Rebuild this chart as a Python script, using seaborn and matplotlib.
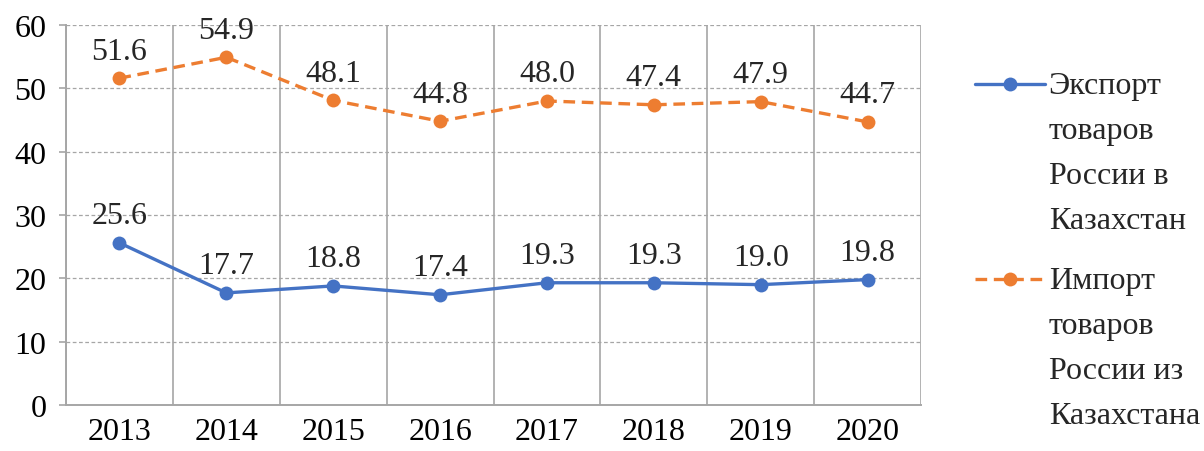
import matplotlib
matplotlib.use("Agg")
import matplotlib.pyplot as plt
from matplotlib.lines import Line2D
import seaborn as sns
import pandas as pd

# data
years = ["2013", "2014", "2015", "2016", "2017", "2018", "2019", "2020"]
export_vals = [25.6, 17.7, 18.8, 17.4, 19.3, 19.3, 19.0, 19.8]
import_vals = [51.6, 54.9, 48.1, 44.8, 48.0, 47.4, 47.9, 44.7]
export_label = "Экспорт\nтоваров\nРоссии в\nКазахстан"
import_label = "Импорт\nтоваров\nРоссии из\nКазахстана"

blue = "#4472C4"
orange = "#ED7D31"
grid_col = "#A6A6A6"
dash = (0, (3.5, 2))
fs = 23
ms = 10

sns.set_theme(style="white")
plt.rcParams["font.family"] = ["Liberation Serif", "DejaVu Serif"]

df = pd.DataFrame({"pos": range(len(years)), "exp": export_vals, "imp": import_vals})

fig = plt.figure(figsize=(12.04, 4.52), dpi=100)
ax = fig.add_axes([0.0548, 0.1018, 0.7102, 0.8407])

sns.lineplot(data=df, x="pos", y="exp", ax=ax, color=blue, lw=2.4,
             marker="o", markersize=ms, markeredgewidth=0, legend=False)
sns.lineplot(data=df, x="pos", y="imp", ax=ax, color=orange, lw=2.4,
             linestyle=dash, marker="o", markersize=ms,
             markeredgewidth=0, legend=False)

for i in range(len(years)):
    ax.annotate(f"{export_vals[i]:.1f}", (i, export_vals[i]), xytext=(0, 9),
                textcoords="offset points", ha="center", va="bottom", fontsize=fs)
    ax.annotate(f"{import_vals[i]:.1f}", (i, import_vals[i]), xytext=(0, 9),
                textcoords="offset points", ha="center", va="bottom", fontsize=fs)

ax.set_xlim(-0.5, len(years) - 0.5)
ax.set_ylim(0, 60)
ax.set_yticks(range(0, 61, 10))
ax.set_yticklabels([str(v) for v in range(0, 61, 10)], fontsize=fs)

# category labels at centers, ticks/grid at boundaries
ax.set_xticks(range(len(years)))
ax.set_xticklabels(years, fontsize=fs)
ax.set_xticks([i - 0.5 for i in range(len(years) + 1)], minor=True)
ax.tick_params(axis="x", which="major", length=0, pad=9)
ax.tick_params(axis="x", which="minor", length=5, width=1.2)
ax.tick_params(axis="y", length=5, width=1.2, pad=9, left=True)
ax.tick_params(axis="both", which="both", color=grid_col, labelcolor="black")

ax.grid(axis="y", which="major", color=grid_col, linestyle=(0, (3, 2)), lw=0.9)
ax.grid(axis="x", which="minor", color=grid_col, linestyle="-", lw=1.2)
ax.grid(axis="x", which="major", visible=False)
ax.set_axisbelow(True)

for side in ["top", "right"]:
    ax.spines[side].set_visible(False)
for side in ["left", "bottom"]:
    ax.spines[side].set_color(grid_col)
    ax.spines[side].set_linewidth(1.4)

ax.set_xlabel("")
ax.set_ylabel("")

# legend drawn by hand so the marker sits on the first text line
for yy, col, ls, lab in [(0.812, blue, "-", export_label),
                         (0.381, orange, dash, import_label)]:
    fig.add_artist(Line2D([0.810, 0.868], [yy, yy], transform=fig.transFigure,
                          color=col, lw=2.4, linestyle=ls))
    fig.add_artist(Line2D([0.839], [yy], transform=fig.transFigure, color=col,
                          marker="o", markersize=ms, markeredgewidth=0))
    fig.text(0.871, yy + 0.029, lab, fontsize=fs, ha="left", va="top",
             linespacing=1.73)

fig.savefig("out.png", dpi=100)
